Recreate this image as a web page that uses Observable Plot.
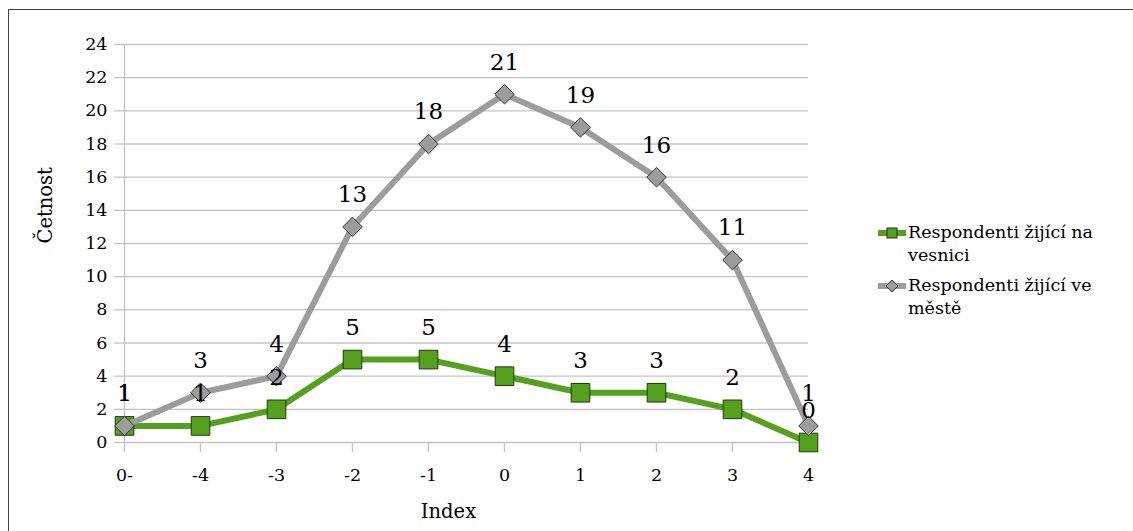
<!DOCTYPE html>
<html>
<head>
<meta charset="utf-8">
<script src="https://cdn.jsdelivr.net/npm/d3@7"></script>
<script src="https://cdn.jsdelivr.net/npm/@observablehq/plot@0.6"></script>
<style>
  html, body { margin: 0; padding: 0; background: #fff; }
  #wrap { position: relative; width: 1133px; height: 531px; overflow: hidden; font-family: "DejaVu Serif", serif; }
  #frame { position: absolute; left: 8px; top: 9px; width: 1140px; height: 540px; border: 1px solid #444; box-sizing: border-box; }
  #chart { position: absolute; left: 0; top: 0; }
  .leg { position: absolute; left: 878px; font-size: 17.5px; line-height: 23px; color: #000; }
  .leg svg { position: absolute; left: 0; top: 4px; }
  .leg span { display: block; margin-left: 30px; }
</style>
</head>
<body>
<div id="wrap">
  <div id="frame"></div>
  <div id="chart"></div>
  <div id="legend"></div>
</div>
<script>
const categories = ["0-", "-4", "-3", "-2", "-1", "0", "1", "2", "3", "4"];
const village = [1, 1, 2, 5, 5, 4, 3, 3, 2, 0];
const city = [1, 3, 4, 13, 18, 21, 19, 16, 11, 1];
const yTicks = [0, 2, 4, 6, 8, 10, 12, 14, 16, 18, 20, 22, 24];
const seriesNames = ["Respondenti žijící na vesnici", "Respondenti žijící ve městě"];
const green = "#56a020";
const gray = "#9c9c9c";

const vData = categories.map((c, i) => ({cat: c, v: village[i]}));
const cData = categories.map((c, i) => ({cat: c, v: city[i]}));

const plot = Plot.plot({
  width: 1133,
  height: 531,
  marginLeft: 124,
  marginRight: 325,
  marginTop: 44,
  marginBottom: 89,
  style: {fontFamily: "DejaVu Serif, serif", fontSize: "17px", color: "#000", background: "transparent"},
  x: {type: "point", domain: categories, padding: 0},
  y: {domain: [0, 24]},
  marks: [
    Plot.ruleY(yTicks, {stroke: "#c4c4c4", strokeWidth: 1.3}),
    Plot.ruleX([categories[0]], {stroke: "#c4c4c4", strokeWidth: 1.3}),
    Plot.axisY({ticks: yTicks, tickSize: 10, tickPadding: 7, stroke: "#c4c4c4", strokeWidth: 1.3, label: null, fontSize: 17.5}),
    Plot.axisX({tickSize: 10, tickPadding: 16, stroke: "#c4c4c4", strokeWidth: 1.3, label: null, fontSize: 17.5}),
    Plot.text(["Četnost"], {frameAnchor: "left", rotate: -90, dx: -79, fontSize: 19.5}),
    Plot.text(["Index"], {frameAnchor: "bottom", dx: -18, dy: 75, fontSize: 19.5}),
    Plot.line(vData, {x: "cat", y: "v", stroke: green, strokeWidth: 6, strokeLinejoin: "round"}),
    Plot.dot(vData, {x: "cat", y: "v", symbol: "square", r: 10.5, fill: green, stroke: "#1e3a0a", strokeWidth: 1}),
    Plot.line(cData, {x: "cat", y: "v", stroke: gray, strokeWidth: 6, strokeLinejoin: "round"}),
    Plot.dot(cData, {x: "cat", y: "v", symbol: "diamond2", r: 8.8, fill: gray, stroke: "#333", strokeWidth: 1}),
    Plot.text(vData, {x: "cat", y: "v", text: d => String(d.v), dy: -32, fontSize: 23, fill: "#000"}),
    Plot.text(cData, {x: "cat", y: "v", text: d => String(d.v), dy: -32, fontSize: 23, fill: "#000"})
  ]
});
document.getElementById("chart").appendChild(plot);

// Legend (HTML)
const legend = document.getElementById("legend");
const legendItems = [
  {name: seriesNames[0], color: green, sym: "square", top: 221, lines: ["Respondenti žijící na", "vesnici"]},
  {name: seriesNames[1], color: gray, sym: "diamond", top: 274, lines: ["Respondenti žijící ve", "městě"]}
];
legendItems.forEach(it => {
  const div = document.createElement("div");
  div.className = "leg";
  div.style.top = it.top + "px";
  const marker = it.sym === "square"
    ? `<rect x="9" y="3" width="10" height="10" fill="${it.color}" stroke="#1e3a0a" stroke-width="1"/>`
    : `<path d="M14,2 L20,8 L14,14 L8,8 Z" fill="${it.color}" stroke="#333" stroke-width="1"/>`;
  div.innerHTML = `<svg width="28" height="16"><line x1="0" x2="28" y1="8" y2="8" stroke="${it.color}" stroke-width="6"/>${marker}</svg>` +
    it.lines.map(l => `<span>${l}</span>`).join("");
  legend.appendChild(div);
});
</script>
</body>
</html>
